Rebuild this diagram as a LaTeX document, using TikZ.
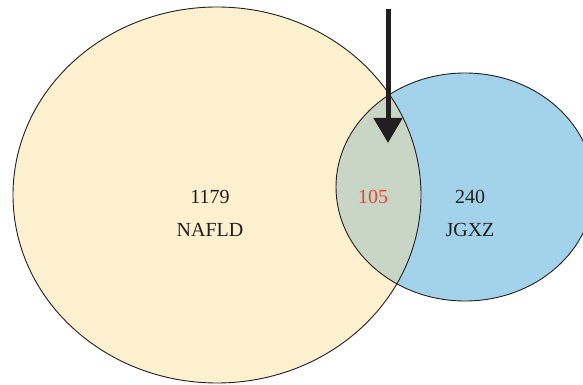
\documentclass[tikz,border=0pt]{standalone}
\usepackage{fontspec}
\setmainfont{Liberation Serif}
\usetikzlibrary{arrows.meta}
\definecolor{nafld}{HTML}{FDF0CF}
\definecolor{jgxz}{HTML}{A3D3EA}
\definecolor{both}{HTML}{C9D6C6}
\definecolor{redtxt}{HTML}{E8452F}
\definecolor{ink}{HTML}{231F20}
\tikzset{
  setline/.style={draw=ink, line width=0.9pt},
  lbl/.style={font=\fontsize{20}{24}\selectfont, text=ink, inner sep=0pt},
  bigarrow/.style={draw=ink, line width=5pt, -{Triangle[width=28pt,length=25pt]}, ink}
}
\begin{document}
\begin{tikzpicture}[x=1pt,y=1pt]
\useasboundingbox (0,0) rectangle (583,385);
\clip (0,0) rectangle (583,385);
% fills
\fill[nafld] (217,190) ellipse [x radius=204, y radius=188];
\fill[jgxz] (465,198) ellipse [x radius=129, y radius=114];
\begin{scope}
  \clip (217,190) ellipse [x radius=204, y radius=188];
  \fill[both] (465,198) ellipse [x radius=129, y radius=114];
\end{scope}
% outlines
\draw[setline] (217,190) ellipse [x radius=204, y radius=188];
\draw[setline] (465,198) ellipse [x radius=129, y radius=114];
% labels
\node[lbl] (n1) at (210,188) {1179};
\node[lbl] (n2) at (210,155) {NAFLD};
\node[lbl, text=redtxt] (n3) at (373,188) {105};
\node[lbl] (n4) at (470,188) {240};
\node[lbl] (n5) at (470,155) {JGXZ};
% arrow
\coordinate (atop) at (388,376);
\coordinate (atip) at (388,242);
\draw[bigarrow] (atop) -- (atip);
\end{tikzpicture}
\end{document}
